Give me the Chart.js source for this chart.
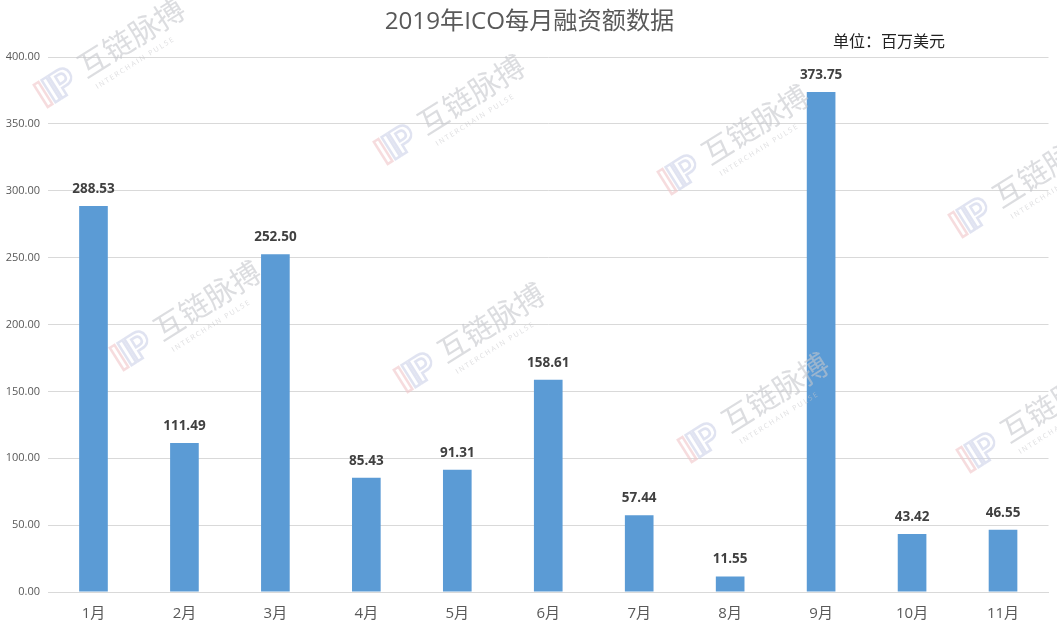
<!DOCTYPE html>
<html>
<head>
<meta charset="utf-8">
<style>
  html, body { margin: 0; padding: 0; background: #fff; }
  #wrap { position: relative; width: 1057px; height: 632px; }
</style>
<script src="https://cdn.jsdelivr.net/npm/chart.js@4/dist/chart.umd.min.js"></script>
</head>
<body>
<div id="wrap"><canvas id="graph"></canvas></div>
<script>
const months = ["1月", "2月", "3月", "4月", "5月", "6月", "7月", "8月", "9月", "10月", "11月"];
const amounts = [288.53, 111.49, 252.50, 85.43, 91.31, 158.61, 57.44, 11.55, 373.75, 43.42, 46.55];
const FONT = "'Open Sans', 'Noto Sans CJK SC', sans-serif";

// watermark anchors, logo start of each stamp
const stamps = [[40, 99], [380, 156], [664, 186], [955, 229], [116, 362], [400, 384], [684, 454], [963, 464]];

// value labels above each bar
const barLabels = {
  id: "barLabels",
  afterDatasetsDraw(chart) {
    const ctx = chart.ctx;
    ctx.save();
    ctx.font = "bold 13.5px " + FONT;
    ctx.fillStyle = "#404040";
    ctx.textAlign = "center";
    ctx.textBaseline = "middle";
    chart.getDatasetMeta(0).data.forEach((bar, i) => {
      ctx.fillText(amounts[i].toFixed(2), bar.x, bar.y - 17);
    });
    ctx.restore();
  }
};

// title, unit note and the watermark
const extras = {
  id: "extras",
  afterDraw(chart) {
    const ctx = chart.ctx;
    ctx.save();
    ctx.textBaseline = "middle";
    ctx.textAlign = "center";
    ctx.font = "24.2px " + FONT;
    ctx.fillStyle = "#595959";
    ctx.fillText("2019年ICO每月融资额数据", 529.5, 22);
    ctx.textAlign = "left";
    ctx.font = "16px " + FONT;
    ctx.fillStyle = "#222";
    ctx.fillText("单位：百万美元", 833, 42);

    stamps.forEach(([x, y]) => {
      ctx.save();
      ctx.translate(x, y);
      ctx.rotate(-0.56);
      ctx.globalAlpha = 0.6;
      ctx.font = "bold 36px Inter, sans-serif";
      ctx.lineWidth = 2.5;
      ctx.strokeStyle = "#f0c4c8";
      ctx.strokeText("I", 0, 0);
      ctx.strokeStyle = "#ccd0e8";
      ctx.strokeText("I", 9, 0);
      ctx.strokeText("P", 17, 0);
      ctx.font = "30px 'Noto Sans CJK SC', sans-serif";
      ctx.fillStyle = "#c4c6cc";
      ctx.fillText("互链脉搏", 50, -4);
      ctx.font = "7px " + FONT;
      ctx.fillStyle = "#c8c8cc";
      ctx.fillText("I N T E R C H A I N   P U L S E", 54, 20);
      ctx.restore();
    });
    ctx.restore();
  }
};

let icoChart = new Chart(document.getElementById("graph"), {
  type: "bar",
  data: {
    labels: months,
    datasets: [{
      label: "融资额",
      data: amounts,
      backgroundColor: "#5B9BD5",
      barPercentage: 0.63,
      categoryPercentage: 0.5
    }]
  },
  options: {
    responsive: true,
    maintainAspectRatio: false,
    animation: false,
    layout: { padding: { left: 0, right: 8.5, top: 57, bottom: 0 } },
    plugins: {
      legend: { display: false },
      tooltip: { enabled: false }
    },
    scales: {
      x: {
        afterFit(scale) { scale.height = 40; },
        grid: { display: false },
        border: { color: "#d9d9d9" },
        ticks: { color: "#595959", padding: 5, font: { family: FONT, size: 15 } }
      },
      y: {
        afterFit(scale) { scale.width = 48; },
        min: 0,
        max: 400,
        ticks: {
          stepSize: 50,
          color: "#595959",
          padding: 8,
          font: { family: FONT, size: 11 },
          callback: v => v.toFixed(2)
        },
        grid: { color: "#d9d9d9", drawTicks: false },
        border: { display: false }
      }
    }
  },
  plugins: [barLabels, extras]
});
</script>
</body>
</html>
